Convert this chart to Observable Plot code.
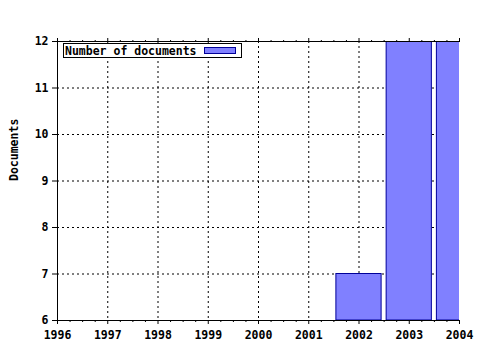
<!DOCTYPE html>
<html>
<head>
<meta charset="utf-8">
<script src="https://cdn.jsdelivr.net/npm/d3@7"></script>
<script src="https://cdn.jsdelivr.net/npm/@observablehq/plot@0.6"></script>
<style>
  html, body { margin: 0; padding: 0; background: #fff; }
  #chart svg { display: block; }
</style>
</head>
<body>
<div id="chart"></div>
<script>
const years = [2002, 2003, 2004];
const documents = [7, 12, 12];
const majorTicks = [1996, 1997, 1998, 1999, 2000, 2001, 2002, 2003, 2004];
const yTicks = [6, 7, 8, 9, 10, 11, 12];
const seriesName = "Number of documents";
const yLabel = "Documents";

const FONT = "'DejaVu Sans Mono', monospace";
const FILL = "#8080ff";
const STROKE = "#000099";

const bars = years.map((y, i) => ({year: y, value: documents[i]}));
const minorTicks = [];
for (let i = 0; i < majorTicks.length - 1; i++) {
  for (const f of [0.25, 0.5, 0.75]) minorTicks.push(majorTicks[i] + f);
}

function legend(index, scales, values, dims) {
  const g = d3.create("svg:g");
  g.append("rect").attr("x", 63.5).attr("y", 43.5).attr("width", 178).attr("height", 14)
    .attr("fill", "white").attr("stroke", "black");
  g.append("text").attr("x", 65).attr("y", 54.5).text(seriesName)
    .attr("text-anchor", "start").attr("xml:space", "preserve")
    .attr("font-family", FONT).attr("font-weight", "bold").attr("font-size", "11.5px").attr("fill", "black");
  g.append("rect").attr("x", 204.5).attr("y", 47.5).attr("width", 31).attr("height", 6)
    .attr("fill", FILL).attr("stroke", STROKE);
  return g.node();
}

const plot = Plot.plot({
  width: 480,
  height: 350,
  marginLeft: 57,
  marginRight: 21,
  marginTop: 41,
  marginBottom: 30,
  style: {fontFamily: FONT, fontSize: "11.5px", fontWeight: "bold", background: "white", color: "black"},
  x: {type: "linear", domain: [1996, 2004]},
  y: {type: "linear", domain: [6, 12]},
  marks: [
    Plot.gridX(majorTicks.slice(1, -1), {stroke: "black", strokeOpacity: 1, strokeDasharray: "2,3"}),
    Plot.gridY(yTicks.slice(1, -1), {stroke: "black", strokeOpacity: 1, strokeDasharray: "2,3"}),
    Plot.rectY(bars, {
      x1: d => d.year - 0.45, x2: d => d.year + 0.45,
      y1: 6, y2: "value",
      fill: FILL, stroke: STROKE, strokeWidth: 1, clip: true
    }),
    Plot.ruleY([6, 12], {stroke: "black"}),
    Plot.ruleX([1996], {stroke: "black"}),
    Plot.axisX({ticks: majorTicks, tickSize: 4, tickFormat: d => String(d), tickPadding: 6, label: null, fontWeight: "bold"}),
    Plot.axisX({ticks: minorTicks, tickSize: 2, tickFormat: () => "", label: null}),
    Plot.axisX({anchor: "top", ticks: majorTicks, tickSize: 4, tickFormat: () => "", label: null}),
    Plot.axisX({anchor: "top", ticks: minorTicks, tickSize: 2, tickFormat: () => "", label: null}),
    Plot.axisY({ticks: yTicks, tickSize: 5, tickPadding: 4, tickFormat: d => String(d), label: null, fontWeight: "bold"}),
    Plot.text([yLabel], {frameAnchor: "left", dx: -43, rotate: -90, fontWeight: "bold", fill: "black", fontSize: 11.5}),
    legend
  ]
});
document.getElementById("chart").appendChild(plot);
</script>
</body>
</html>
